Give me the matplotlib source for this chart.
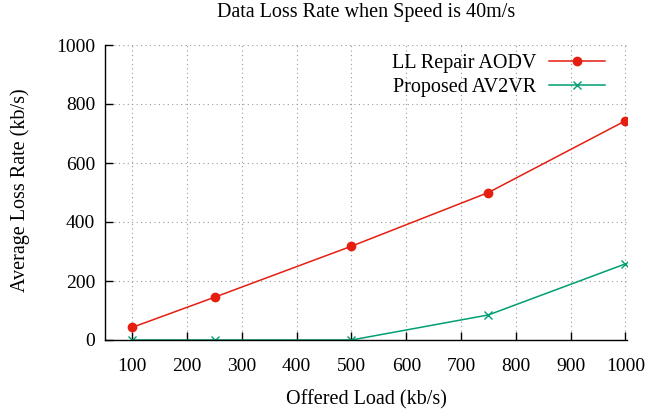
import matplotlib
matplotlib.use("Agg")
import matplotlib.pyplot as plt

x_load = [100, 250, 500, 750, 1000]
ll_repair = [43, 145, 318, 500, 743]
av2vr = [0, 0, 0, 85, 258]
x_ticks = [100, 200, 300, 400, 500, 600, 700, 800, 900, 1000]
y_ticks = [0, 200, 400, 600, 800, 1000]

plt.rcParams['font.family'] = ['Liberation Serif', 'DejaVu Serif']
W, H = 648, 412
fig = plt.figure(figsize=(6.48, 4.12), dpi=100)
L, R, T, B = 105, 627, 45, 340
ax = fig.add_axes([L / W, 1 - B / H, (R - L) / W, (B - T) / H])

ax.plot(x_load, ll_repair, color='#e51e10', lw=1.1, marker='o', ms=6,
        label='LL Repair AODV')
ax.plot(x_load, av2vr, color='#009e73', lw=1.1, marker='x', ms=6, mew=1.0,
        label='Proposed AV2VR')

ax.set_xlim(50, 1003)
ax.set_ylim(0, 1000)
ax.set_xticks(x_ticks)
ax.set_yticks(y_ticks)
ax.tick_params(direction='in', length=6, width=1, labelsize=14)
ax.tick_params(axis='x', pad=13)
ax.tick_params(axis='y', pad=7)
ax.grid(True, linestyle=(0, (1, 3)), color='#999999', lw=0.8)
for s in ['top', 'right']:
    ax.spines[s].set_visible(False)
for s in ['left', 'bottom']:
    ax.spines[s].set_linewidth(1.0)

fig.text((L + R) / 2 / W, 1 - 13 / H, 'Data Loss Rate when Speed is 40m/s',
         fontsize=14.5, ha='center', va='center')
ax.set_xlabel('Offered Load (kb/s)', fontsize=14.5)
ax.set_ylabel('Average Loss Rate (kb/s)', fontsize=14.5)
ax.xaxis.set_label_coords(((L + R) / 2 + 0) / W, 1 - 400 / H, transform=fig.transFigure)
ax.yaxis.set_label_coords(20 / W, 1 - 190 / H, transform=fig.transFigure)
ax.xaxis.label.set_va('center')
ax.yaxis.label.set_va('center')

leg = ax.legend(loc='upper right', bbox_to_anchor=(605 / W, 1 - 54 / H),
                bbox_transform=fig.transFigure, frameon=False,
                markerfirst=False, fontsize=14.5, handlelength=2.8,
                labelspacing=0.25, handletextpad=0.6, borderpad=0, borderaxespad=0)
for t in leg.get_texts():
    t.set_ha('right')
leg._legend_box.align = 'right'

fig.savefig('out.png', dpi=100)
